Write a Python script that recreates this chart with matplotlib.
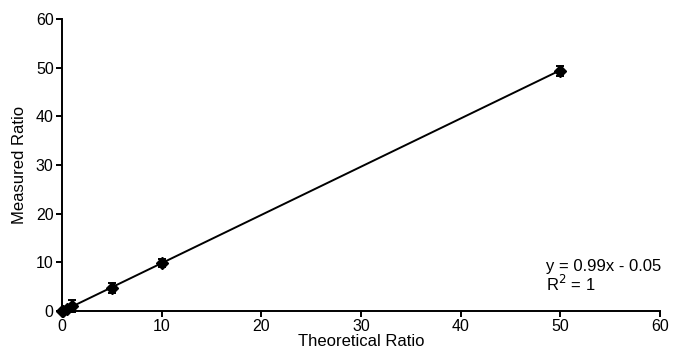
import numpy as np
import matplotlib
matplotlib.use("Agg")
import matplotlib.pyplot as plt

# Data
theoretical = [0, 0.1, 0.5, 1, 5, 10, 50]
measured = [0.0, 0.1, 0.4, 1.0, 4.8, 9.9, 49.3]
err = [0.3, 0.3, 0.5, 1.2, 1.0, 0.9, 1.0]
slope = 0.99
intercept = -0.05

plt.rcParams['font.family'] = ['Liberation Sans', 'DejaVu Sans']

fig = plt.figure(figsize=(6.74, 3.5), dpi=100)
ax = fig.add_axes([0.092, 0.111, 0.887, 0.835])

xfit = np.array([min(theoretical), max(theoretical)])
ax.plot(xfit, slope * xfit + intercept, color='black', lw=1.4, zorder=2)
ax.errorbar(theoretical, measured, yerr=err, fmt='D', color='black',
            ms=6, capsize=3, elinewidth=1.4, capthick=1.4, zorder=3,
            clip_on=False)

ax.set_xlim(0, 60)
ax.set_ylim(0, 60)
ax.set_xticks(range(0, 61, 10))
ax.set_yticks(range(0, 61, 10))
ax.spines['top'].set_visible(False)
ax.spines['right'].set_visible(False)
ax.spines['left'].set_linewidth(1.4)
ax.spines['bottom'].set_linewidth(1.4)
ax.tick_params(direction='out', length=4, width=1.4, labelsize=11.5, pad=2)
ax.set_xlabel("Theoretical Ratio", fontsize=12, labelpad=0)
ax.set_ylabel("Measured Ratio", fontsize=12, labelpad=6)

ax.text(0.81, 0.058, "y = 0.99x - 0.05\nR$^2$ = 1", transform=ax.transAxes,
        fontsize=12, va='bottom', ha='left', linespacing=1.0)

fig.savefig("out.png", dpi=100)
